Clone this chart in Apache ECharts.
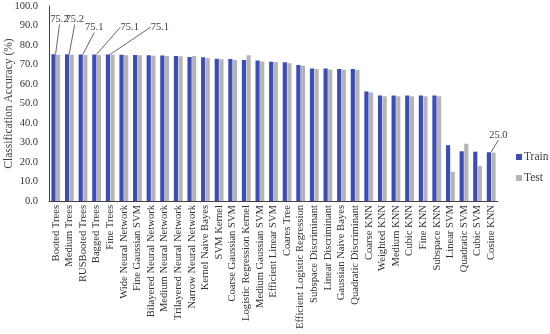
<!DOCTYPE html>
<html>
<head>
<meta charset="utf-8">
<script src="https://cdn.jsdelivr.net/npm/echarts@6/dist/echarts.min.js"></script>
<style>html,body{margin:0;padding:0;background:#fff}#c{width:550px;height:334px}</style>
</head>
<body>
<div id="c"></div>
<script>
const categories = ["Booted Trees","Medium Trees","RUSBooted Trees","Bagged Trees","Fine Trees","Wide Neural Network","Fine Gaussian SVM","Bilayered Neural Network","Medium Neural Network","Trilayered Neural Network","Narrow Neural Network","Kernel Naive Bayes","SVM Kernel","Coarse Gaussian SVM","Logistic Regression Kernel","Medium Gaussian SVM","Efficient Linear SVM","Coares Tree","Efficient Logistic Regression","Subspace Discriminant","Linear Discriminant","Gaussian Naive Bayes","Quadratic Discriminant","Coarse KNN","Weighted KNN","Medium KNN","Cubic KNN","Fine KNN","Subspace KNN","Linear SVM","Quadratic SVM","Cubic SVM","Cosine KNN"];
const trainValues = [75.2,75.2,75.1,75.1,75.1,75.0,74.9,74.7,74.6,74.3,73.9,73.7,73.0,72.8,72.3,72.1,71.4,71.1,69.7,68.0,68.0,67.7,67.7,56.2,54.1,54.1,54.1,54.1,54.1,28.6,25.5,25.3,25.0];
const testValues = [75.0,75.0,74.9,74.9,74.9,74.8,74.7,74.5,74.4,74.2,74.4,73.2,72.7,72.3,74.7,71.6,71.3,70.6,69.4,67.7,67.5,67.3,67.3,55.7,53.7,53.7,53.7,53.7,53.7,15.0,29.4,17.9,24.8];
const labeledIdx = [0,1,2,3,4,32];
const yTicks = [0,10,20,30,40,50,60,70,80,90,100];

const labelOffsets = {0:[6,-25],1:[7.6,-25],2:[13.5,-17],3:[35.4,-17],4:[52,-17],32:[9.5,-7]};
const FONT = '"Liberation Serif", "DejaVu Serif", serif';

const chart = echarts.init(document.getElementById('c'), null, {renderer:'canvas'});
chart.setOption({
  animation:false,
  backgroundColor:'#ffffff',
  textStyle:{fontFamily:FONT},
  grid:{left:49,right:52,top:6,bottom:133,containLabel:false,outerBoundsMode:'none'},
  legend:{
    orient:'vertical', left:516, top:151, itemWidth:6, itemHeight:6, itemGap:9,
    icon:'rect', padding:0,
    textStyle:{fontFamily:FONT,fontSize:11.5,color:'#404040',padding:[0,0,0,-3]},
    data:['Train','Test']
  },
  xAxis:{
    type:'category', data:categories,
    axisLine:{lineStyle:{color:'#404040',width:1}},
    axisTick:{show:false},
    axisLabel:{rotate:90, interval:0, margin:4, fontFamily:FONT, fontSize:10.6, color:'#333'}
  },
  yAxis:{
    type:'value', min:yTicks[0], max:yTicks[yTicks.length-1], interval:10,
    name:'Classification Accuracy (%)', nameLocation:'middle', nameGap:34, nameMoveOverlap:false,
    nameTextStyle:{fontFamily:FONT,fontSize:11.5,color:'#404040'},
    axisLine:{show:true,lineStyle:{color:'#404040',width:1}},
    axisTick:{show:false},
    splitLine:{show:false},
    axisLabel:{fontFamily:FONT,fontSize:10.5,color:'#333',margin:11,formatter:v=>v.toFixed(1)}
  },
  series:[
    {
      name:'Train', type:'bar', barWidth:4.2, barGap:'10%',
      itemStyle:{color:'#3C4DB8'},
      data: trainValues.map((v,i)=> labeledIdx.includes(i) ? {value:v,label:{show:true}} : v),
      label:{show:false, position:'top', fontFamily:FONT, fontSize:10.5, color:'#404040', formatter:p=>p.value.toFixed(1)},
      labelLine:{show:true, lineStyle:{color:'#404040',width:0.8}},
      labelLayout:function(p){
        const o = labelOffsets[p.dataIndex];
        return o ? {dx:o[0], dy:o[1]} : {};
      }
    },
    {
      name:'Test', type:'bar', barWidth:4.2,
      itemStyle:{color:'#B4B4B4'},
      data: testValues
    }
  ]
});
</script>
</body>
</html>
